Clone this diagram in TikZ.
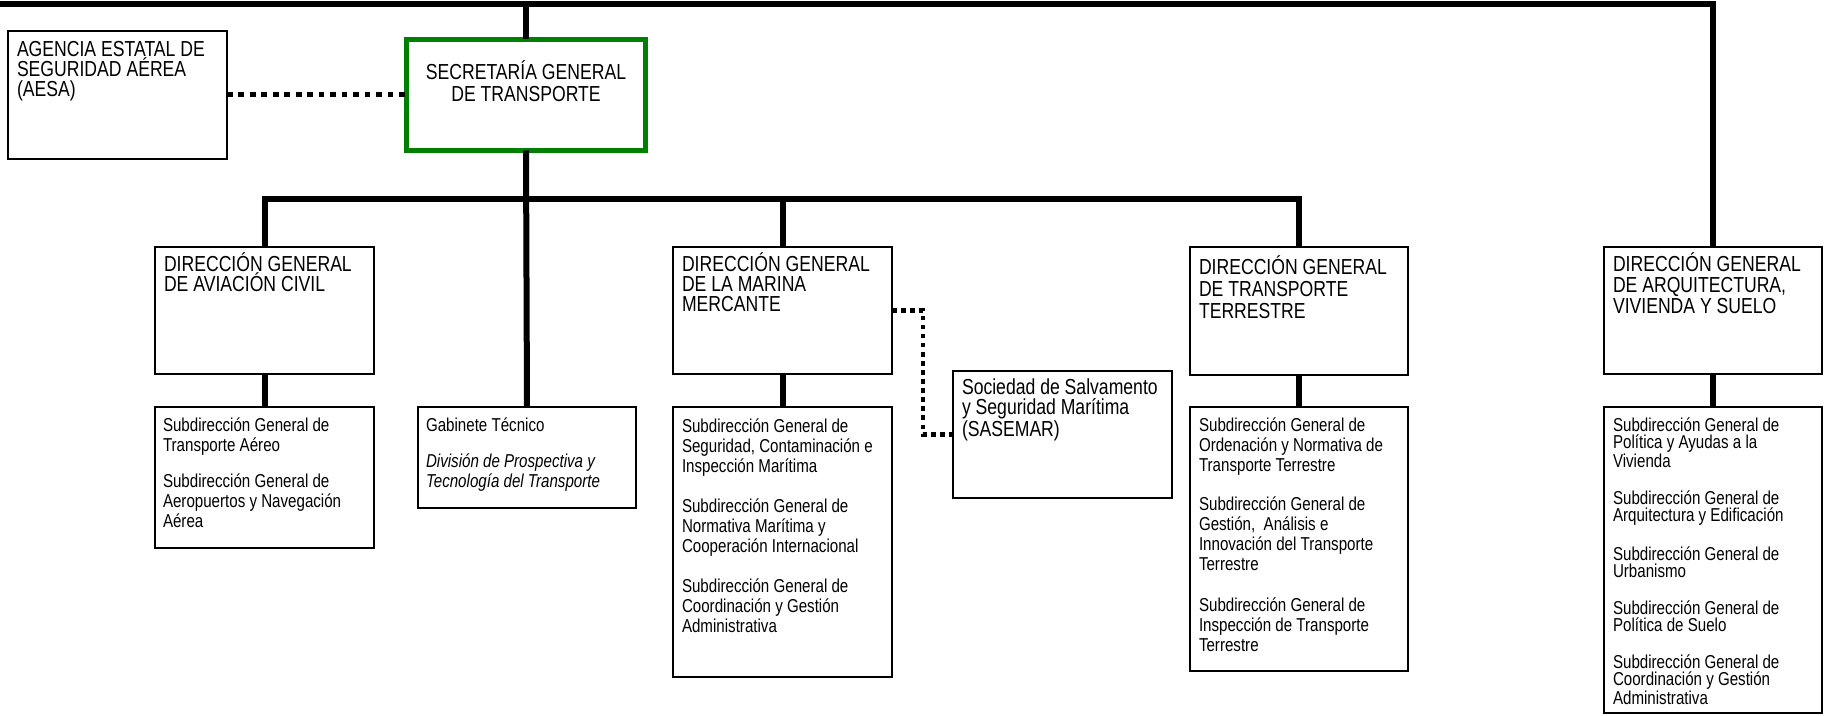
\documentclass[tikz,border=0pt]{standalone}
\usepackage{fontspec}
\setmainfont[FakeStretch=0.81]{Liberation Sans}
\newdimen\upx \upx=0.75pt
\newcommand{\hdrfont}[1]{\fontsize{16.3}{#1}\selectfont}
\newcommand{\subfont}[1]{\fontsize{14}{#1}\selectfont}
\newcommand{\tl}[2]{\parbox[t]{#1}{\raggedright #2}}
\begin{document}
\begin{tikzpicture}[x=0.75pt,y=-0.75pt,
  box/.style={draw=black, line width=1.9pt, rectangle, inner sep=0pt, outer sep=0pt, anchor=north west, fill=white},
  sgbox/.style={box, draw={rgb,255:red,0;green,128;blue,0}, line width=3.75pt},
  conn/.style={line width=4.5pt, line join=miter},
  dotc/.style={line width=3.75pt, dash pattern=on 4.3pt off 4.3pt},
  dotd/.style={line width=3.6pt, dash pattern=on 3.4pt off 3.4pt, line join=miter},
  txt/.style={anchor=base west, inner sep=0pt, outer sep=0pt}]
\useasboundingbox (0,0) rectangle (1829,716);

% boxes
\node[box, minimum width=219\upx, minimum height=128\upx] (aesa) at (8,31) {};
\node[sgbox, minimum width=239\upx, minimum height=111\upx] (sg) at (406.5,39.5) {};
\node[box, minimum width=219\upx, minimum height=127\upx] (dgac) at (155,247) {};
\node[box, minimum width=219\upx, minimum height=141\upx] (dgacS) at (155,407) {};
\node[box, minimum width=218\upx, minimum height=101\upx] (gab) at (418,407) {};
\node[box, minimum width=219\upx, minimum height=127\upx] (dgmm) at (673,247) {};
\node[box, minimum width=219\upx, minimum height=270\upx] (dgmmS) at (673,407) {};
\node[box, minimum width=219\upx, minimum height=127\upx] (sas) at (953,371) {};
\node[box, minimum width=218\upx, minimum height=128\upx] (dgtt) at (1190,247) {};
\node[box, minimum width=218\upx, minimum height=264\upx] (dgttS) at (1190,407) {};
\node[box, minimum width=218\upx, minimum height=127\upx] (dgavs) at (1604,247) {};
\node[box, minimum width=218\upx, minimum height=306\upx] (dgavsS) at (1604,407) {};

% connectors
\coordinate (topL) at (0,4.5);
\coordinate (bus) at (0,199);
\coordinate (dm) at (923,0);
\draw[conn] (topL) -| (dgavs.north);
\draw[conn] (sg.north |- topL) -- (sg.north);
\draw[conn] (sg.south) -- (gab.north);
\draw[conn] (dgac.north) |- (dgtt.north |- bus) -- (dgtt.north);
\draw[conn] (dgmm.north |- bus) -- (dgmm.north);
\draw[conn] (dgac.south) -- (dgacS.north);
\draw[conn] (dgmm.south) -- (dgmmS.north);
\draw[conn] (dgtt.south) -- (dgttS.north);
\draw[conn] (dgavs.south) -- (dgavsS.north);
\draw[dotc] (aesa.east) -- (sg.west);
\draw[dotd] (dgmm.east) -| (dm |- sas.west) -- (sas.west);

% texts
\node[txt, font=\hdrfont{15pt}] (t-aesa) at (17,57) {\tl{210\upx}{AGENCIA ESTATAL DE\\SEGURIDAD AÉREA\\(AESA)}};
\node[anchor=base, inner sep=0pt, font=\hdrfont{16.5pt}] (t-sg) at (526,80) {\parbox[t]{230\upx}{\centering SECRETARÍA GENERAL\\DE TRANSPORTE}};
\node[txt, font=\hdrfont{15pt}] (t-dgac) at (164,272) {\tl{210\upx}{DIRECCIÓN GENERAL\\DE AVIACIÓN CIVIL}};
\node[txt, font=\hdrfont{15pt}] (t-dgmm) at (682,272) {\tl{210\upx}{DIRECCIÓN GENERAL\\DE LA MARINA\\MERCANTE}};
\node[txt, font=\hdrfont{16.5pt}] (t-dgtt) at (1199,275) {\tl{210\upx}{DIRECCIÓN GENERAL\\DE TRANSPORTE\\TERRESTRE}};
\node[txt, font=\hdrfont{15.4pt}] (t-dgavs) at (1613,272) {\tl{210\upx}{DIRECCIÓN GENERAL\\DE ARQUITECTURA,\\VIVIENDA Y SUELO}};
\node[txt, font=\hdrfont{14.6pt}] (t-sas) at (962,395) {\tl{210\upx}{Sociedad de Salvamento\\y Seguridad Marítima\\(SASEMAR)}};

\node[txt, font=\subfont{15pt}] (t-dgacS) at (163,432) {\tl{210\upx}{Subdirección General de\\Transporte Aéreo\\[12pt]Subdirección General de\\Aeropuertos y Navegación\\Aérea}};
\node[txt, font=\subfont{15pt}] (t-gab) at (426,432) {\tl{210\upx}{Gabinete Técnico\\[12pt]\textit{División de Prospectiva y}\\\textit{Tecnología del Transporte}}};
\node[txt, font=\subfont{15pt}] (t-dgmmS) at (682,433) {\tl{210\upx}{Subdirección General de\\Seguridad, Contaminación e\\Inspección Marítima\\[15pt]Subdirección General de\\Normativa Marítima y\\Cooperación Internacional\\[15pt]Subdirección General de\\Coordinación y Gestión\\Administrativa}};
\node[txt, font=\subfont{15pt}] (t-dgttS) at (1199,432) {\tl{210\upx}{Subdirección General de\\Ordenación y Normativa de\\Transporte Terrestre\\[14pt]Subdirección General de\\Gestión,~ Análisis e\\Innovación del Transporte\\Terrestre\\[16pt]Subdirección General de\\Inspección de Transporte\\Terrestre}};
\node[txt, font=\subfont{12.75pt}] (t-dgavsS) at (1613,432) {\tl{210\upx}{Subdirección General de\\Política y Ayudas a la\\Vivienda\\[15pt]Subdirección General de\\Arquitectura y Edificación\\[15pt]Subdirección General de\\Urbanismo\\[15pt]Subdirección General de\\Política de Suelo\\[15pt]Subdirección General de\\Coordinación y Gestión\\Administrativa}};
\end{tikzpicture}
\end{document}
